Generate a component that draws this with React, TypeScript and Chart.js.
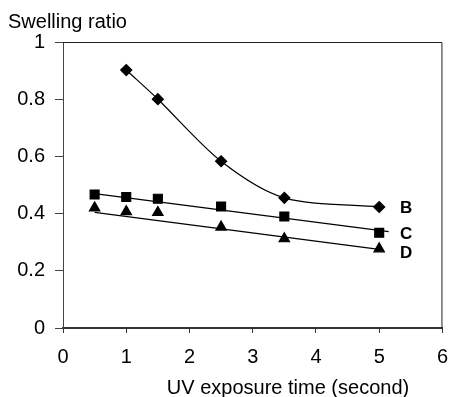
import React, { useEffect, useRef } from "react";
import { Chart, registerables } from "chart.js";

Chart.register(...registerables);

// Data
const bX = [1, 1.5, 2.5, 3.5, 5];
const bY = [0.902, 0.8, 0.583, 0.455, 0.423];

const cX = [0.5, 1, 1.5, 2.5, 3.5, 5];
const cY = [0.467, 0.458, 0.452, 0.425, 0.39, 0.333];

const dX = [0.5, 1, 1.5, 2.5, 3.5, 5];
const dY = [0.42, 0.407, 0.404, 0.353, 0.312, 0.277];

// Trend lines (end points)
const cTrendX = [0.5, 5.15];
const cTrendY = [0.47, 0.337];
const dTrendX = [0.5, 5.03];
const dTrendY = [0.404, 0.274];

const seriesLabels = ["B", "C", "D"];
const seriesLabelX = 5.33;
const seriesLabelY = [0.419, 0.327, 0.26];

const xTicks = [0, 1, 2, 3, 4, 5, 6];
const yTicks = [0, 0.2, 0.4, 0.6, 0.8, 1];

const yTitle = "Swelling ratio";
const xTitle = "UV exposure time (second)";

const FONT = "'Liberation Sans', Arial, sans-serif";

const toPts = (xs: number[], ys: number[]) => xs.map((x, i) => ({ x, y: ys[i] }));

const decor = {
  id: "decor",
  afterDraw(chart: any) {
    const { ctx, chartArea: a, scales } = chart;
    ctx.save();
    // frame top/right
    ctx.strokeStyle = "#222";
    ctx.lineWidth = 1;
    ctx.beginPath();
    ctx.moveTo(a.left, a.top + 0.5);
    ctx.lineTo(a.right - 0.5, a.top + 0.5);
    ctx.lineTo(a.right - 0.5, a.bottom);
    ctx.stroke();
    ctx.fillStyle = "#000";
    ctx.font = `20px ${FONT}`;
    ctx.textBaseline = "alphabetic";
    ctx.textAlign = "left";
    ctx.fillText(yTitle, 8, 28);
    ctx.textAlign = "center";
    ctx.fillText(xTitle, 288, 394);
    ctx.font = `bold 17px ${FONT}`;
    ctx.textAlign = "left";
    ctx.textBaseline = "middle";
    seriesLabels.forEach((t, i) => {
      ctx.fillText(
        t,
        scales.x.getPixelForValue(seriesLabelX),
        scales.y.getPixelForValue(seriesLabelY[i])
      );
    });
    ctx.restore();
  },
};

export default function App() {
  const ref = useRef<HTMLCanvasElement>(null);
  useEffect(() => {
    const common = {
      borderColor: "#000",
      backgroundColor: "#000",
      pointBorderColor: "#000",
      pointBackgroundColor: "#000",
      borderWidth: 1.2,
    };
    const chart = new Chart(ref.current!, {
      type: "scatter",
      data: {
        datasets: [
          {
            ...common,
            label: "B",
            data: toPts(bX, bY),
            showLine: true,
            tension: 0.3,
            pointStyle: "rectRot",
            pointRadius: 5.5,
          },
          {
            ...common,
            label: "C trend",
            data: toPts(cTrendX, cTrendY),
            showLine: true,
            pointRadius: 0,
          },
          {
            ...common,
            label: "D trend",
            data: toPts(dTrendX, dTrendY),
            showLine: true,
            pointRadius: 0,
          },
          {
            ...common,
            label: "C",
            data: toPts(cX, cY),
            showLine: false,
            pointStyle: "rect",
            pointRadius: 6.3,
          },
          {
            ...common,
            label: "D",
            data: toPts(dX, dY),
            showLine: false,
            pointStyle: "triangle",
            pointRadius: 6,
          },
        ],
      },
      options: {
        animation: false,
        responsive: false,
        layout: { padding: { top: 42, right: 6, left: 0, bottom: 0 } },
        plugins: { legend: { display: false }, tooltip: { enabled: false }, title: { display: false } },
        scales: {
          x: {
            type: "linear",
            min: 0,
            max: 6,
            afterBuildTicks: (s: any) => {
              s.ticks = xTicks.map((v) => ({ value: v }));
            },
            afterFit: (s: any) => {
              s.height = 69;
            },
            ticks: {
              color: "#000",
              font: { family: FONT, size: 20 },
              padding: 12,
              maxRotation: 0,
            },
            grid: {
              drawOnChartArea: false,
              drawTicks: true,
              tickLength: 5,
              tickColor: "#333",
            },
            border: { color: "#333", width: 2 },
          },
          y: {
            type: "linear",
            min: 0,
            max: 1,
            afterBuildTicks: (s: any) => {
              s.ticks = yTicks.map((v) => ({ value: v }));
            },
            afterFit: (s: any) => {
              s.width = 63;
            },
            ticks: {
              color: "#000",
              font: { family: FONT, size: 20 },
              padding: 10,
              callback: (v: any) => String(v),
            },
            grid: {
              drawOnChartArea: false,
              drawTicks: true,
              tickLength: 8,
              tickColor: "#444",
            },
            border: { color: "#444", width: 1 },
          },
        },
      },
      plugins: [decor],
    } as any);
    return () => chart.destroy();
  }, []);
  return (
    <div style={{ position: "fixed", left: 0, top: 0, width: 460, height: 397 }}>
      <canvas ref={ref} width={460} height={397} />
    </div>
  );
}
